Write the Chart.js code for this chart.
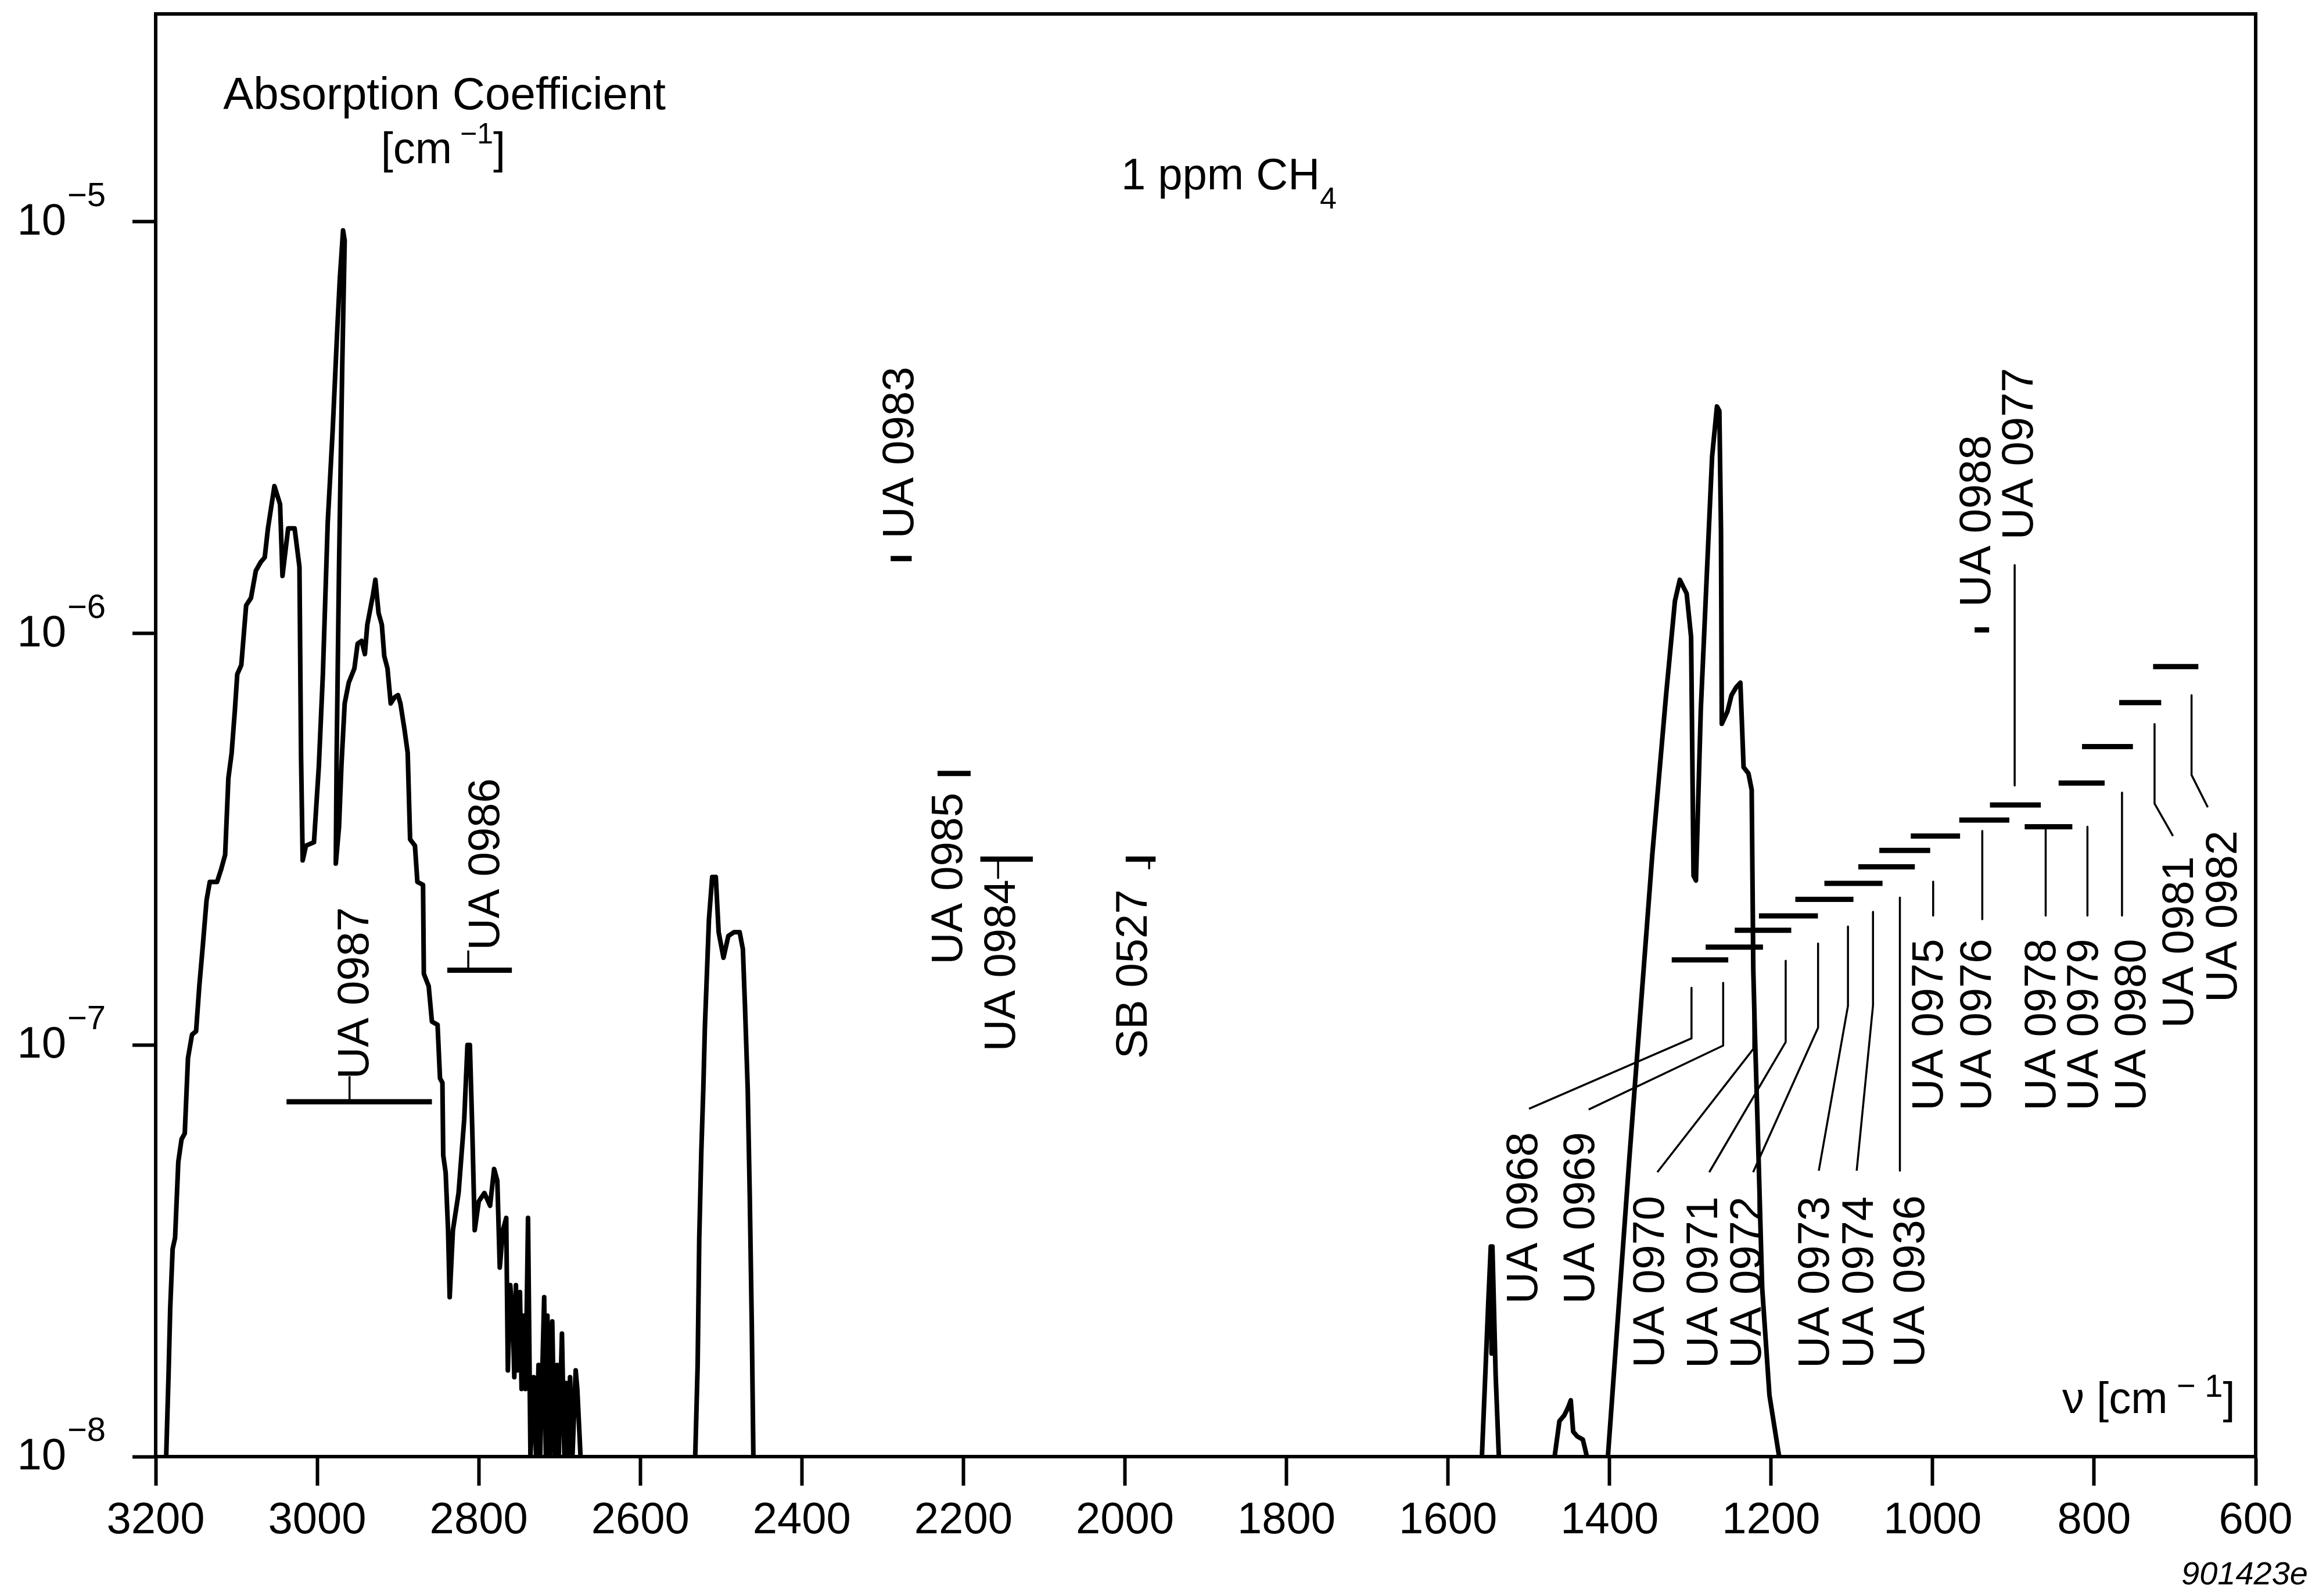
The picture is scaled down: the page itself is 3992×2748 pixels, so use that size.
<!DOCTYPE html>
<html>
<head>
<meta charset="utf-8">
<title>1 ppm CH4 absorption</title>
<script src="https://cdn.jsdelivr.net/npm/chart.js@4.4.1/dist/chart.umd.min.js"></script>
<style>
  html, body { margin: 0; padding: 0; background: #fff; }
  canvas { display: block; }
</style>
</head>
<body>
<canvas id="myChart" width="3992" height="2748"></canvas>
<script>
const fontFamily = '"Liberation Sans", Arial, Helvetica, sans-serif'

// axis ticks
const xTicks = [3200, 3000, 2800, 2600, 2400, 2200, 2000, 1800, 1600, 1400, 1200, 1000, 800, 600]
const yTicks = [1e-8, 1e-7, 1e-6, 1e-5]

// absorption coefficient of 1 ppm CH4, [wavenumber, cm-1]
const band3000 = [
    [3187, 1.0e-8], [3184, 1.6e-8], [3182, 2.3e-8], [3179, 3.2e-8], [3176, 3.4e-8], [3172, 5.2e-8],
    [3168, 5.9e-8], [3164, 6.1e-8], [3160, 9.3e-8], [3155, 1.06e-7], [3150, 1.08e-7], [3146, 1.39e-7],
    [3142, 1.71e-7], [3137, 2.25e-7], [3133, 2.49e-7], [3124, 2.49e-7], [3119, 2.67e-7], [3114, 2.9e-7],
    [3110, 4.45e-7], [3106, 5.11e-7], [3102, 6.49e-7], [3099, 7.96e-7], [3094, 8.38e-7], [3088, 1.17e-6],
    [3082, 1.22e-6], [3076, 1.42e-6], [3070, 1.49e-6], [3065, 1.53e-6], [3061, 1.8e-6], [3053, 2.28e-6],
    [3046, 2.06e-6], [3043, 1.38e-6], [3036, 1.8e-6], [3028, 1.8e-6], [3022, 1.45e-6], [3020, 5.0e-7],
    [3018, 2.81e-7], [3014, 3.05e-7], [3004, 3.11e-7], [2998, 4.76e-7], [2993, 7.96e-7], [2987, 1.86e-6],
    [2981, 3.08e-6], [2975, 5.57e-6], [2972, 7.28e-6], [2968, 9.53e-6], [2966, 9.0e-6], [2969, 4.5e-6],
    [2973, 1.45e-6], [2976, 5.0e-7], [2977, 2.76e-7], [2973, 3.39e-7], [2970, 4.79e-7], [2966, 6.76e-7],
    [2961, 7.59e-7], [2954, 8.22e-7], [2950, 9.44e-7], [2945, 9.59e-7], [2941, 8.91e-7], [2938, 1.05e-6],
    [2931, 1.24e-6], [2928, 1.35e-6], [2924, 1.12e-6], [2920, 1.05e-6], [2917, 8.81e-7], [2913, 8.22e-7],
    [2909, 6.76e-7], [2904, 7.0e-7], [2900, 7.08e-7], [2897, 6.76e-7], [2892, 5.85e-7], [2888, 5.13e-7],
    [2885, 3.16e-7], [2879, 3.05e-7], [2876, 2.49e-7], [2869, 2.45e-7], [2868, 1.49e-7], [2862, 1.39e-7],
    [2858, 1.14e-7], [2851, 1.12e-7], [2848, 8.3e-8], [2845, 8.1e-8], [2844, 5.4e-8], [2841, 4.9e-8],
    [2838, 3.55e-8], [2836, 2.44e-8], [2832, 3.55e-8], [2825, 4.37e-8], [2818, 6.6e-8], [2814, 1.0e-7],
    [2811, 1.0e-7], [2808, 6.2e-8], [2805, 3.55e-8], [2800, 4.17e-8], [2793, 4.37e-8], [2786, 4.07e-8],
    [2781, 5.0e-8], [2777, 4.68e-8], [2774, 2.88e-8], [2770, 3.55e-8], [2766, 3.8e-8], [2764, 1.62e-8],
    [2761, 2.61e-8], [2758, 2.2e-8], [2756, 1.56e-8], [2754, 2.61e-8], [2752, 1.62e-8], [2749, 2.51e-8],
    [2747, 1.46e-8], [2745, 2.2e-8], [2742, 1.46e-8], [2739, 3.8e-8], [2736, 1.0e-8], [2732, 1.56e-8],
    [2729, 1.0e-8], [2726, 1.67e-8], [2724, 1.0e-8], [2719, 2.44e-8], [2717, 1.0e-8], [2715, 2.2e-8],
    [2712, 1.0e-8], [2709, 2.13e-8], [2706, 1.0e-8], [2703, 1.67e-8], [2701, 1.0e-8], [2697, 1.99e-8],
    [2694, 1.0e-8], [2692, 1.51e-8], [2690, 1.0e-8], [2687, 1.56e-8], [2684, 1.0e-8], [2680, 1.62e-8],
    [2678, 1.46e-8], [2674, 1.0e-8]
]
const band2500 = [
    [2532, 1.0e-8], [2529, 1.67e-8], [2527, 3.4e-8], [2524.5, 5.47e-8], [2522, 7.82e-8], [2520, 1.11e-7],
    [2517, 1.59e-7], [2515, 2.02e-7], [2511, 2.56e-7], [2506.5, 2.56e-7], [2503, 1.88e-7], [2497, 1.63e-7],
    [2491, 1.84e-7], [2484, 1.88e-7], [2477, 1.88e-7], [2473, 1.71e-7], [2470.5, 1.26e-7], [2467, 7.82e-8],
    [2464.5, 4.32e-8], [2462, 2.11e-8], [2460, 1.0e-8]
]
const band1545 = [
    [1558, 1.0e-8], [1550, 2.4e-8], [1547, 3.24e-8], [1546, 1.78e-8], [1545, 3.24e-8], [1541, 1.58e-8], [1537, 1.0e-8]
]
const band1450 = [
    [1468, 1.0e-8], [1462, 1.22e-8], [1456, 1.26e-8], [1451, 1.32e-8], [1448, 1.37e-8], [1445, 1.15e-8],
    [1440, 1.12e-8], [1433, 1.1e-8], [1428, 1.0e-8]
]
const band1300 = [
    [1402, 1.0e-8], [1376, 5.13e-8], [1347, 2.91e-7], [1330, 7.08e-7], [1319, 1.2e-6], [1313, 1.35e-6],
    [1304.5, 1.25e-6], [1299, 9.79e-7], [1296, 2.58e-7], [1293, 2.51e-7], [1287, 6.53e-7], [1279, 1.47e-6],
    [1273, 2.69e-6], [1267, 3.56e-6], [1264, 3.47e-6], [1262, 1.78e-6], [1261, 6.03e-7], [1254, 6.46e-7],
    [1249, 7.08e-7], [1243, 7.41e-7], [1238, 7.59e-7], [1234, 4.73e-7], [1228, 4.57e-7], [1224, 4.17e-7],
    [1222, 1.52e-7], [1220, 1.07e-7], [1216, 5.78e-8], [1211, 2.57e-8], [1202, 1.41e-8], [1190, 1.0e-8]
]
const bands = [band3000, band2500, band1545, band1450, band1300]

// laser lines: tuning range and detection limit
const laserNames = ['UA 0987', 'UA 0986', 'UA 0983', 'UA 0985', 'UA 0984', 'SB 0527', 'UA 0988',
    'UA 0968', 'UA 0969', 'UA 0970', 'UA 0971', 'UA 0972', 'UA 0973', 'UA 0974', 'UA 0936',
    'UA 0975', 'UA 0976', 'UA 0977', 'UA 0978', 'UA 0979', 'UA 0980', 'UA 0981', 'UA 0982']
const laserFrom = [3038, 2839, 2290, 2232, 2179, 1999, 948,
    1323, 1281, 1245, 1215, 1170, 1134, 1092, 1066, 1027, 967, 929, 886, 844, 815, 769, 727]
const laserTo = [2858, 2759, 2264, 2191, 2114, 1962, 930,
    1253, 1210, 1175, 1142, 1098, 1062, 1022, 1003, 966, 905, 866, 827, 787, 752, 717, 671]
const laserLimit = [7.28e-8, 1.52e-7, 1.52e-6, 4.57e-7, 2.83e-7, 2.83e-7, 1.02e-6,
    1.61e-7, 1.73e-7, 1.9e-7, 2.06e-7, 2.26e-7, 2.47e-7, 2.71e-7, 2.97e-7, 3.22e-7, 3.52e-7,
    3.83e-7, 3.39e-7, 4.33e-7, 5.31e-7, 6.79e-7, 8.31e-7]

// where each name starts (text runs upwards from here)
const nameX = [2951.5, 2790, 2277, 2217, 2151, 1988, 944,
    1505, 1434, 1348, 1282, 1228, 1144, 1089, 1026, 1003, 943, 891, 863, 811, 752, 693, 639]
const nameY = [8.27e-8, 1.7e-7, 1.7e-6, 1.57e-7, 9.65e-8, 9.26e-8, 1.16e-6,
    2.35e-8, 2.35e-8, 1.645e-8, 1.64e-8, 1.64e-8, 1.64e-8, 1.64e-8, 1.65e-8,
    6.93e-8, 6.93e-8, 1.69e-6, 6.93e-8, 6.93e-8, 6.93e-8, 1.1e-7, 1.27e-7]

// thin lines tying names to their ranges
const leaderLines = [
    [[2960, 7.28e-8], [2960, 8.4e-8]],
    [[2813, 1.52e-7], [2813, 1.697e-7]],
    [[2157, 2.82e-7], [2157, 2.546e-7]],
    [[1970, 2.8e-7], [1970, 2.685e-7]],
    [[1298.5, 1.377e-7], [1298.5, 1.038e-7], [1499.7, 7.0e-8]],
    [[1259.3, 1.416e-7], [1259.3, 9.97e-8], [1425.8, 6.97e-8]],
    [[1222, 1.479e-7], [1222, 9.78e-8], [1340.8, 4.91e-8]],
    [[1181.9, 1.602e-7], [1181.9, 1.017e-7], [1276.5, 4.91e-8]],
    [[1141.8, 1.765e-7], [1141.8, 1.102e-7], [1222.2, 4.91e-8]],
    [[1104.8, 1.941e-7], [1104.8, 1.245e-7], [1140.9, 4.95e-8]],
    [[1073.8, 2.106e-7], [1073.8, 1.247e-7], [1094, 4.95e-8]],
    [[1040.5, 2.282e-7], [1040.5, 4.95e-8]],
    [[999.3, 2.495e-7], [999.3, 2.062e-7]],
    [[938.5, 3.311e-7], [938.5, 2.021e-7]],
    [[898.4, 1.466e-6], [898.4, 4.272e-7]],
    [[860, 3.39e-7], [860, 2.062e-7]],
    [[808.3, 3.39e-7], [808.3, 2.062e-7]],
    [[765.5, 4.105e-7], [765.5, 2.062e-7]],
    [[725.2, 6.02e-7], [725.2, 3.86e-7], [702.4, 3.22e-7]],
    [[679.4, 7.08e-7], [679.4, 4.53e-7], [659.3, 3.78e-7]]
]

const toPoints = pairs => pairs.map(p => ({ x: p[0], y: p[1] }))

const datasets = []
bands.forEach(b => datasets.push({ data: toPoints(b), borderWidth: 8 }))
laserNames.forEach((n, i) => datasets.push({
    label: n,
    data: [{ x: laserFrom[i], y: laserLimit[i] }, { x: laserTo[i], y: laserLimit[i] }],
    borderWidth: 9,
    borderCapStyle: 'butt'
}))
leaderLines.forEach(l => datasets.push({ data: toPoints(l), borderWidth: 3.5 }))

// text made of runs: [text, size, raise]
function drawRuns(ctx, runs, x, y, align) {
    let total = 0
    runs.forEach(r => {
        ctx.font = r[1] + 'px ' + fontFamily
        total += ctx.measureText(r[0]).width
    })
    let cx = align === 'center' ? x - total / 2 : x
    ctx.textAlign = 'left'
    ctx.textBaseline = 'alphabetic'
    runs.forEach(r => {
        ctx.font = r[1] + 'px ' + fontFamily
        ctx.fillText(r[0], cx, y - r[2])
        cx += ctx.measureText(r[0]).width
    })
}

const textPlugin = {
    id: 'spectrumText',
    afterDraw(chart) {
        const { ctx, chartArea, scales } = chart
        const xs = scales.x
        const ys = scales.y
        ctx.save()
        ctx.fillStyle = '#000'
        ctx.strokeStyle = '#000'

        // close the frame
        ctx.lineWidth = 6
        ctx.beginPath()
        ctx.moveTo(chartArea.left - 3, chartArea.top)
        ctx.lineTo(chartArea.right, chartArea.top)
        ctx.lineTo(chartArea.right, chartArea.bottom + 3)
        ctx.stroke()

        // tick labels
        ctx.font = '76px ' + fontFamily
        ctx.textAlign = 'center'
        ctx.textBaseline = 'alphabetic'
        xTicks.forEach(v => {
            ctx.fillText(String(v), xs.getPixelForValue(v), chartArea.bottom + 132)
        })
        yTicks.forEach(v => {
            const py = ys.getPixelForValue(v)
            const ex = Math.round(Math.log10(v))
            ctx.font = '76px ' + fontFamily
            ctx.textAlign = 'right'
            ctx.fillText('10', chartArea.left - 154, py + 22)
            ctx.font = '58px ' + fontFamily
            ctx.textAlign = 'left'
            ctx.fillText('\u2212' + Math.abs(ex), chartArea.left - 152, py - 27)
        })

        // axis captions and title
        drawRuns(ctx, [['Absorption Coefficient', 78, 0]], xs.getPixelForValue(2842.5), ys.getPixelForValue(1.877e-5), 'center')
        drawRuns(ctx, [['[cm', 76, 0], [' \u22121', 50, 34], [']', 76, 0]], xs.getPixelForValue(2844), ys.getPixelForValue(1.388e-5), 'center')
        drawRuns(ctx, [['1 ppm CH', 76, 0], ['4', 52, -33]], xs.getPixelForValue(2004.7), ys.getPixelForValue(1.199e-5), 'left')
        drawRuns(ctx, [['\u03bd [cm', 76, 0], [' \u2212 1', 56, 28], [']', 76, 0]], xs.getPixelForValue(839.5), ys.getPixelForValue(1.277e-8), 'left')

        // laser names, written upwards
        ctx.font = '76px ' + fontFamily
        ctx.textAlign = 'left'
        ctx.textBaseline = 'middle'
        laserNames.forEach((n, i) => {
            ctx.save()
            ctx.translate(xs.getPixelForValue(nameX[i]), ys.getPixelForValue(nameY[i]))
            ctx.rotate(-Math.PI / 2)
            ctx.fillText(n, 0, 0)
            ctx.restore()
        })

        // figure number
        ctx.font = 'italic 56px ' + fontFamily
        ctx.textAlign = 'right'
        ctx.textBaseline = 'alphabetic'
        ctx.fillText('901423e', chartArea.right + 90, chartArea.bottom + 220)
        ctx.restore()
    }
}

Chart.defaults.font.family = fontFamily

const ctx = document.getElementById('myChart').getContext('2d')

const myChart = new Chart(ctx, {
    type: 'line',
    data: { datasets: datasets },
    options: {
        responsive: false,
        animation: false,
        devicePixelRatio: 1,
        layout: { padding: { left: 228, right: 109, top: 24, bottom: 190 } },
        elements: {
            line: { borderColor: '#000', tension: 0, borderJoinStyle: 'round', fill: false },
            point: { radius: 0, hoverRadius: 0 }
        },
        plugins: {
            legend: { display: false },
            tooltip: { enabled: false }
        },
        scales: {
            x: {
                type: 'linear',
                reverse: true,
                min: 600,
                max: 3200,
                afterBuildTicks: axis => { axis.ticks = xTicks.map(v => ({ value: v })) },
                afterFit: axis => { axis.height = 50 },
                ticks: { display: false },
                grid: { drawOnChartArea: false, drawTicks: true, tickLength: 50, tickWidth: 6, tickColor: '#000' },
                border: { display: true, color: '#000', width: 6 }
            },
            y: {
                type: 'logarithmic',
                min: 1e-8,
                max: 3.2e-5,
                afterBuildTicks: axis => { axis.ticks = yTicks.map(v => ({ value: v })) },
                afterFit: axis => { axis.width = 40 },
                ticks: { display: false },
                grid: { drawOnChartArea: false, drawTicks: true, tickLength: 40, tickWidth: 6, tickColor: '#000' },
                border: { display: true, color: '#000', width: 6 }
            }
        }
    },
    plugins: [textPlugin]
})
</script>
</body>
</html>
